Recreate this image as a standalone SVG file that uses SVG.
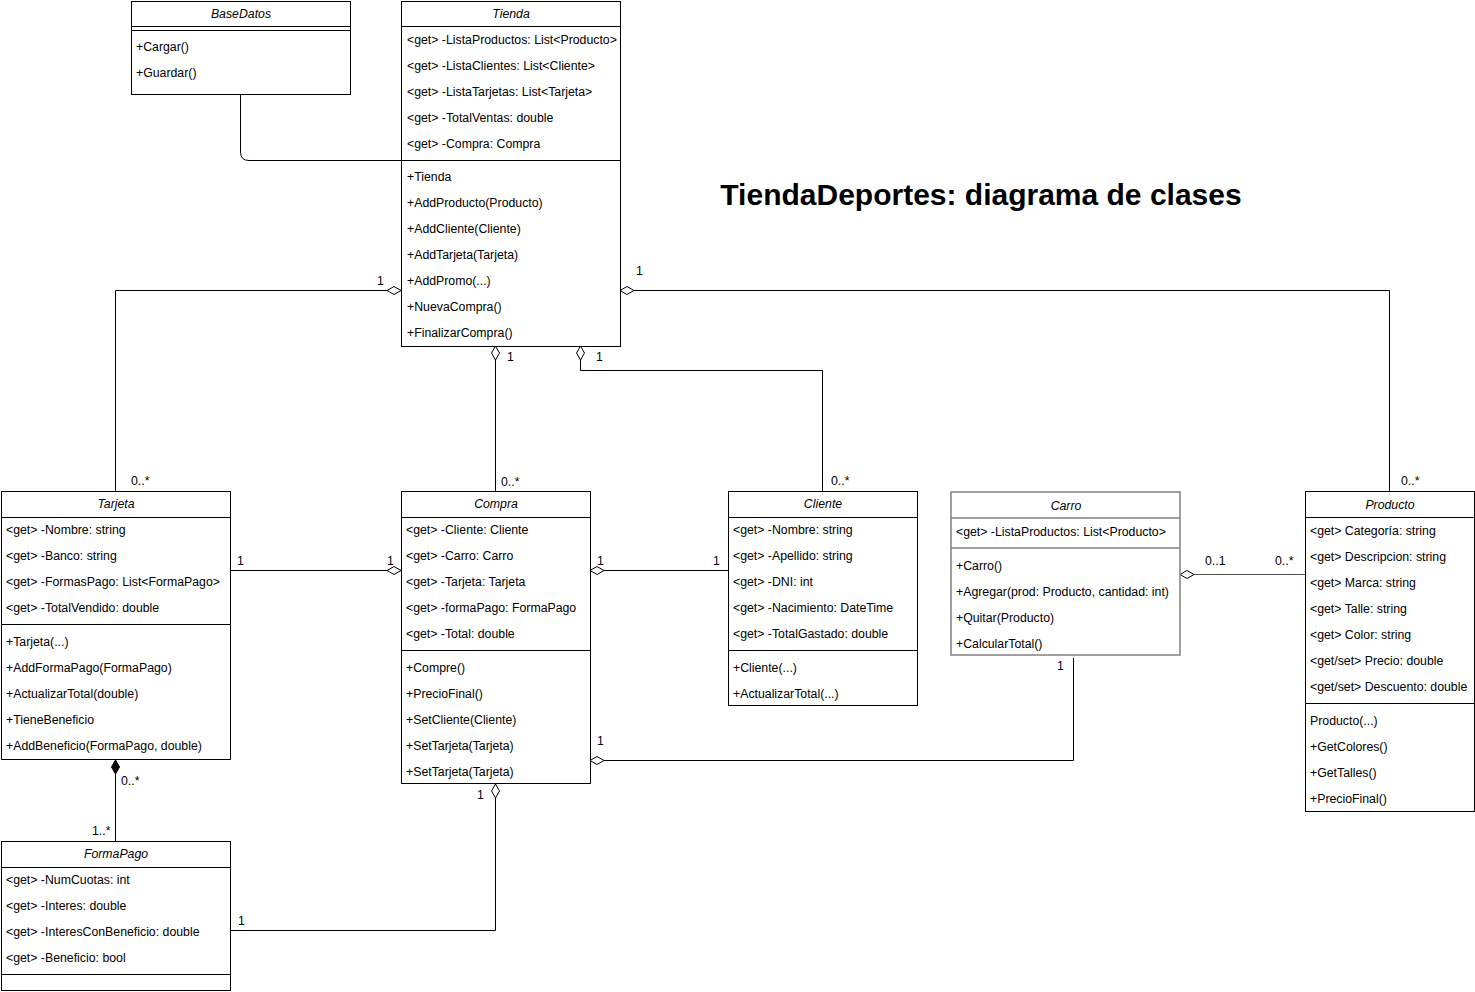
<svg xmlns="http://www.w3.org/2000/svg" width="1475" height="992" viewBox="0 0 1475 992">
<defs>
<style>
.box{fill:#fff;stroke:#000;stroke-width:1}
.sep{stroke:#000;stroke-width:1;fill:none}
.gbox{fill:#fff;stroke:#808080;stroke-width:1.5}
.gsep{stroke:#808080;stroke-width:1.5;fill:none}
text{font-family:"Liberation Sans",Arial,Helvetica,sans-serif;font-size:12.3px;fill:#000}
.hd{font-style:italic;text-anchor:middle}
.title{font-size:30px;font-weight:bold;text-anchor:middle}
.edge{fill:none;stroke:#000;stroke-width:1}
.agg{marker-start:url(#odiamond)}
.comp{marker-start:url(#fdiamond)}
</style>
<marker id="odiamond" markerUnits="userSpaceOnUse" markerWidth="16" markerHeight="10" refX="0" refY="4.5" orient="auto" viewBox="-1 -0.5 16 10">
<path d="M0,4.5 L7,0.5 L14,4.5 L7,8.5 Z" fill="#fff" stroke="#000" stroke-width="1"/>
</marker>
<marker id="fdiamond" markerUnits="userSpaceOnUse" markerWidth="16" markerHeight="10" refX="0" refY="4.5" orient="auto" viewBox="-1 -0.5 16 10">
<path d="M0,4.5 L7,0.5 L14,4.5 L7,8.5 Z" fill="#000" stroke="#000" stroke-width="1"/>
</marker>
</defs>
<rect width="1475" height="992" fill="#fff"/>

<g id="connectors">
<path class="edge" d="M240.5,94 V152 Q240.5,160.5 249,160.5 H401"/>
<path class="edge agg" d="M401,290.5 H115.5 V491"/>
<path class="edge agg" d="M495.5,346 V491"/>
<path class="edge agg" d="M580.5,346 V370.5 H822.5 V491"/>
<path class="edge agg" d="M620,290.5 H1389.5 V491"/>
<path class="edge agg" d="M401,570.5 H230"/>
<path class="edge agg" d="M590,570.5 H728"/>
<path class="edge agg" d="M590,760.5 H1073.5 V658"/>
<path class="edge agg" d="M1180,574.5 H1305" style="stroke:#555"/>
<path class="edge comp" d="M115.5,760 V841"/>
<path class="edge agg" d="M495.5,784 V930.5 H230"/>
<text x="377" y="285">1</text>
<text x="131" y="485">0..*</text>
<text x="507" y="361">1</text>
<text x="501" y="486">0..*</text>
<text x="596" y="361">1</text>
<text x="831" y="485">0..*</text>
<text x="636" y="275">1</text>
<text x="1401" y="485">0..*</text>
<text x="237" y="565">1</text>
<text x="387" y="565">1</text>
<text x="597" y="565">1</text>
<text x="713" y="565">1</text>
<text x="597" y="745">1</text>
<text x="1057" y="670">1</text>
<text x="1205" y="565">0..1</text>
<text x="1275" y="565">0..*</text>
<text x="121" y="785">0..*</text>
<text x="92" y="835">1..*</text>
<text x="477" y="799">1</text>
<text x="238" y="925">1</text>
</g>

<g id="title">
<text class="title" x="981" y="205">TiendaDeportes: diagrama de clases</text>
</g>

<g id="BaseDatos">
<rect class="box" x="131.5" y="1.5" width="219" height="93"/>
<path class="sep" d="M131.5,26.5 H350.5 M131.5,30.5 H350.5"/>
<text class="hd" x="241" y="18">BaseDatos</text>
<text x="136" y="51">+Cargar()</text>
<text x="136" y="77">+Guardar()</text>
</g>

<g id="Tienda">
<rect class="box" x="401.5" y="1.5" width="219" height="345"/>
<path class="sep" d="M401.5,26.5 H620.5 M401.5,160.5 H620.5"/>
<text class="hd" x="511" y="18">Tienda</text>
<text x="407" y="44">&lt;get&gt; -ListaProductos: List&lt;Producto&gt;</text>
<text x="407" y="70">&lt;get&gt; -ListaClientes: List&lt;Cliente&gt;</text>
<text x="407" y="96">&lt;get&gt; -ListaTarjetas: List&lt;Tarjeta&gt;</text>
<text x="407" y="122">&lt;get&gt; -TotalVentas: double</text>
<text x="407" y="148">&lt;get&gt; -Compra: Compra</text>
<text x="407" y="181">+Tienda</text>
<text x="407" y="207">+AddProducto(Producto)</text>
<text x="407" y="233">+AddCliente(Cliente)</text>
<text x="407" y="259">+AddTarjeta(Tarjeta)</text>
<text x="407" y="285">+AddPromo(...)</text>
<text x="407" y="311">+NuevaCompra()</text>
<text x="407" y="337">+FinalizarCompra()</text>
</g>

<g id="Tarjeta">
<rect class="box" x="1.5" y="491.5" width="229" height="268"/>
<path class="sep" d="M1.5,517.5 H230.5 M1.5,624.5 H230.5"/>
<text class="hd" x="116" y="508">Tarjeta</text>
<text x="6" y="534">&lt;get&gt; -Nombre: string</text>
<text x="6" y="560">&lt;get&gt; -Banco: string</text>
<text x="6" y="586">&lt;get&gt; -FormasPago: List&lt;FormaPago&gt;</text>
<text x="6" y="612">&lt;get&gt; -TotalVendido: double</text>
<text x="6" y="646">+Tarjeta(...)</text>
<text x="6" y="672">+AddFormaPago(FormaPago)</text>
<text x="6" y="698">+ActualizarTotal(double)</text>
<text x="6" y="724">+TieneBeneficio</text>
<text x="6" y="750">+AddBeneficio(FormaPago, double)</text>
</g>

<g id="Compra">
<rect class="box" x="401.5" y="491.5" width="189" height="292"/>
<path class="sep" d="M401.5,517.5 H590.5 M401.5,650.5 H590.5"/>
<text class="hd" x="496" y="508">Compra</text>
<text x="406" y="534">&lt;get&gt; -Cliente: Cliente</text>
<text x="406" y="560">&lt;get&gt; -Carro: Carro</text>
<text x="406" y="586">&lt;get&gt; -Tarjeta: Tarjeta</text>
<text x="406" y="612">&lt;get&gt; -formaPago: FormaPago</text>
<text x="406" y="638">&lt;get&gt; -Total: double</text>
<text x="406" y="672">+Compre()</text>
<text x="406" y="698">+PrecioFinal()</text>
<text x="406" y="724">+SetCliente(Cliente)</text>
<text x="406" y="750">+SetTarjeta(Tarjeta)</text>
<text x="406" y="776">+SetTarjeta(Tarjeta)</text>
</g>

<g id="Cliente">
<rect class="box" x="728.5" y="491.5" width="189" height="214"/>
<path class="sep" d="M728.5,517.5 H917.5 M728.5,650.5 H917.5"/>
<text class="hd" x="823" y="508">Cliente</text>
<text x="733" y="534">&lt;get&gt; -Nombre: string</text>
<text x="733" y="560">&lt;get&gt; -Apellido: string</text>
<text x="733" y="586">&lt;get&gt; -DNI: int</text>
<text x="733" y="612">&lt;get&gt; -Nacimiento: DateTime</text>
<text x="733" y="638">&lt;get&gt; -TotalGastado: double</text>
<text x="733" y="672">+Cliente(...)</text>
<text x="733" y="698">+ActualizarTotal(...)</text>
</g>

<g id="Carro">
<rect class="gbox" x="951" y="492" width="229" height="163"/>
<path class="gsep" d="M951,518 H1180 M951,548 H1180"/>
<text class="hd" x="1066" y="510">Carro</text>
<text x="956" y="536">&lt;get&gt; -ListaProductos: List&lt;Producto&gt;</text>
<text x="956" y="570">+Carro()</text>
<text x="956" y="596">+Agregar(prod: Producto, cantidad: int)</text>
<text x="956" y="622">+Quitar(Producto)</text>
<text x="956" y="648">+CalcularTotal()</text>
</g>

<g id="Producto">
<rect class="box" x="1305.5" y="491.5" width="169" height="320"/>
<path class="sep" d="M1305.5,517.5 H1474.5 M1305.5,703.5 H1474.5"/>
<text class="hd" x="1390" y="509">Producto</text>
<text x="1310" y="535">&lt;get&gt; Categoría: string</text>
<text x="1310" y="561">&lt;get&gt; Descripcion: string</text>
<text x="1310" y="587">&lt;get&gt; Marca: string</text>
<text x="1310" y="613">&lt;get&gt; Talle: string</text>
<text x="1310" y="639">&lt;get&gt; Color: string</text>
<text x="1310" y="665">&lt;get/set&gt; Precio: double</text>
<text x="1310" y="691">&lt;get/set&gt; Descuento: double</text>
<text x="1310" y="725">Producto(...)</text>
<text x="1310" y="751">+GetColores()</text>
<text x="1310" y="777">+GetTalles()</text>
<text x="1310" y="803">+PrecioFinal()</text>
</g>

<g id="FormaPago">
<rect class="box" x="1.5" y="841.5" width="229" height="149"/>
<path class="sep" d="M1.5,867.5 H230.5 M1.5,974.5 H230.5"/>
<text class="hd" x="116" y="858">FormaPago</text>
<text x="6" y="884">&lt;get&gt; -NumCuotas: int</text>
<text x="6" y="910">&lt;get&gt; -Interes: double</text>
<text x="6" y="936">&lt;get&gt; -InteresConBeneficio: double</text>
<text x="6" y="962">&lt;get&gt; -Beneficio: bool</text>
</g>
</svg>
